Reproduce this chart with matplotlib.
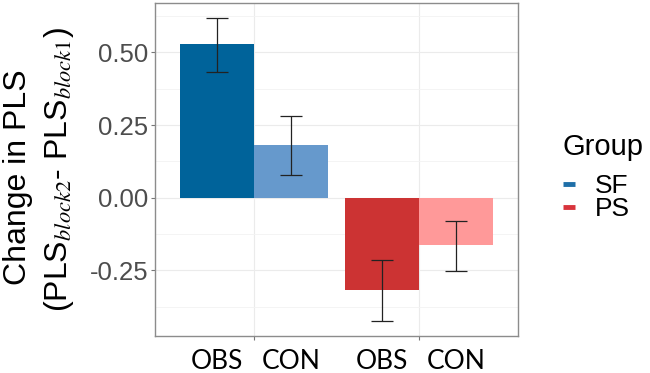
import matplotlib.pyplot as plt
import numpy as np
from matplotlib.lines import Line2D

plt.rcParams['font.family'] = ['Liberation Sans', 'DejaVu Sans']
plt.rcParams['mathtext.fontset'] = 'stix'

# data
groups = ['SF', 'PS']
conditions = ['OBS', 'CON']
means = [0.529, 0.180, -0.317, -0.164]
err_low = [0.433, 0.077, -0.423, -0.253]
err_high = [0.619, 0.281, -0.215, -0.079]
bar_colors = ['#00639A', '#6699CC', '#CC3333', '#FF9999']
legend_colors = ['#1F6FA8', '#D8343C']

fig = plt.figure(figsize=(6.5, 3.73), dpi=100)
ax = fig.add_axes([0.2385, 0.0992, 0.5585, 0.8928])

width = 0.45
xs = []
for gi in range(len(groups)):
    for ci in range(len(conditions)):
        xs.append(gi + 1 + (ci - 0.5) * width)
xs = np.array(xs)
means = np.array(means)
lo = means - np.array(err_low)
hi = np.array(err_high) - means

ax.bar(xs, means, width=width, color=bar_colors, zorder=2)
ax.errorbar(xs, means, yerr=[lo, hi], fmt='none', ecolor='#222222',
            elinewidth=0.9, capsize=8, capthick=0.9, zorder=3)

ax.set_xlim(0.4, 2.6)
ax.set_ylim(-0.476, 0.670)
ax.set_yticks([-0.25, 0.0, 0.25, 0.5])
ax.set_yticklabels(['-0.25', '0.00', '0.25', '0.50'])
ax.set_yticks([-0.375, -0.125, 0.125, 0.375, 0.625], minor=True)
ax.set_xticks([1, 2])
ax.set_xticklabels(['', ''])
ax.grid(True, which='major', color='#EBEBEB', linewidth=0.8, zorder=0)
ax.grid(True, which='minor', axis='y', color='#F3F3F3', linewidth=0.6, zorder=0)
ax.set_axisbelow(True)
ax.tick_params(axis='y', which='major', labelsize=18.5, labelcolor='#4D4D4D',
               color='#777777', length=3, pad=2)
ax.tick_params(axis='y', which='minor', length=0)
ax.tick_params(axis='x', color='#777777', length=3)
for s in ax.spines.values():
    s.set_color('#8C8C8C')
    s.set_linewidth(1.0)

# condition labels under each bar
for x, c in zip(xs, conditions * len(groups)):
    ax.text(x, -0.52, c, ha='center', va='top', fontsize=19,
            family=['Lato', 'DejaVu Sans'], transform=ax.transData)

fig.text(0.005, 0.525, 'Change in PLS', rotation=90, ha='left', va='center',
         fontsize=23)
fig.text(0.064, 0.547, r'(PLS$_{block2}$- PLS$_{block1}$)', rotation=90,
         ha='left', va='center', fontsize=23)

# legend: title as text, entries as short thick lines
fig.text(0.865, 1 - 133 / 373, 'Group', ha='left', va='top', fontsize=21)
handles = [Line2D([], [], color=c, lw=3.5, solid_capstyle='butt')
           for c in legend_colors]
leg = fig.legend(handles, groups, loc='upper left',
                 bbox_to_anchor=(0.866, 1 - 174 / 373), frameon=False,
                 fontsize=19, handlelength=0.45, handletextpad=0.75,
                 labelspacing=-0.02, borderaxespad=0, borderpad=0)

fig.savefig('out.png', dpi=100)
